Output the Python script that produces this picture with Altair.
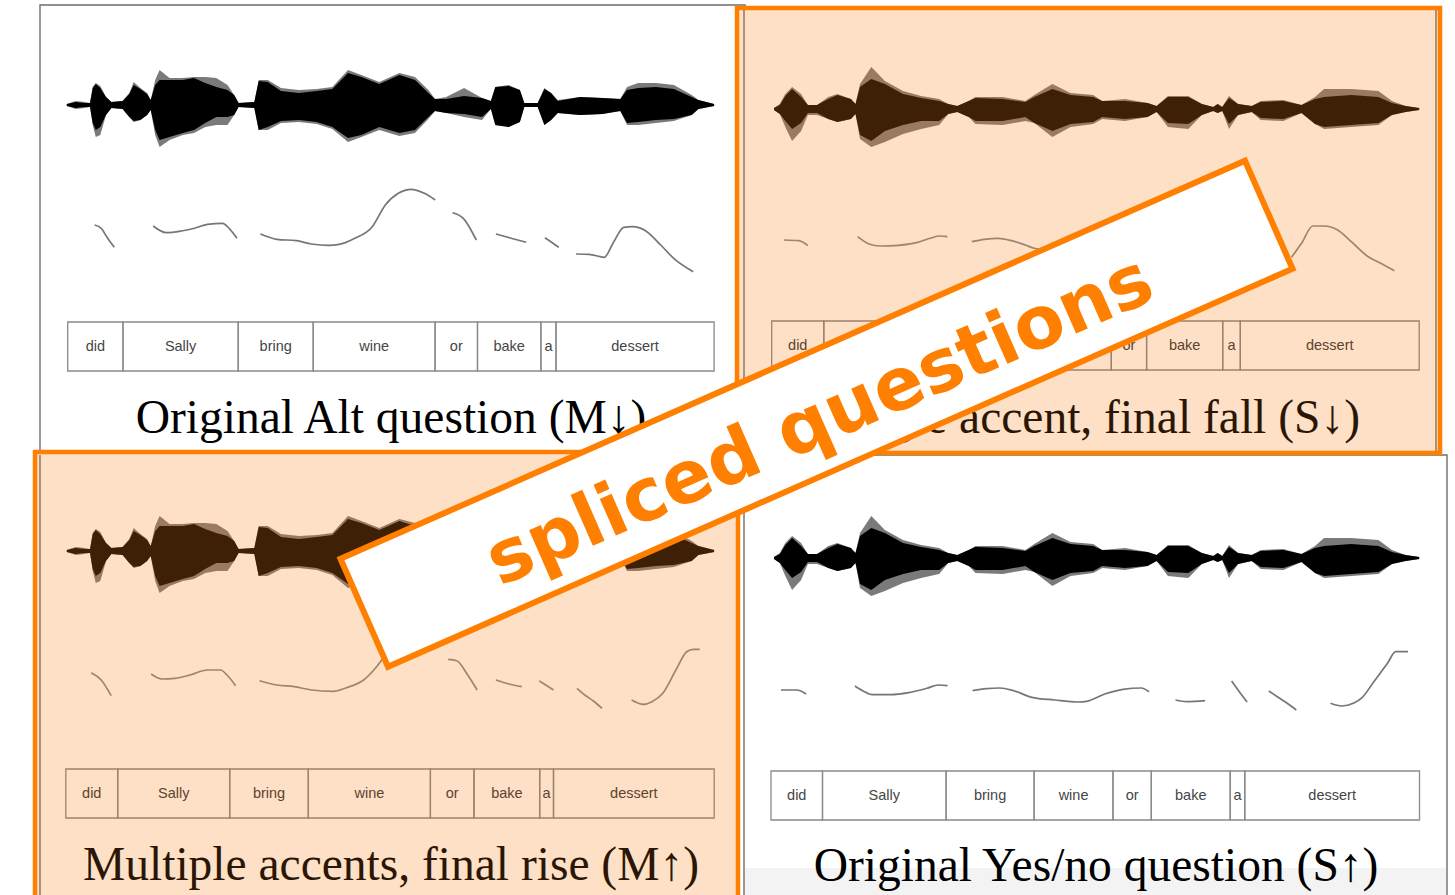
import altair as alt
import pandas as pd

W, H = 1455, 895
ORANGE = "#ff7f00"
PEACH = "#fde0c5"

# colours for the plain (white) panels and the tinted (peach) panels
INK = {"plain": "#000000", "tint": "#3d2006"}
INK_LIGHT = {"plain": "#7a7a7a", "tint": "#9a7a60"}
PITCH_COL = {"plain": "#767676", "tint": "#a0846c"}
TIER_COL = {"plain": "#8a8a8a", "tint": "#9c826c"}
WORD_COL = {"plain": "#454545", "tint": "#5c4330"}
TITLE_COL = {"plain": "#000000", "tint": "#2b1605"}

# ---- panels ----------------------------------------------------------------
panel_ids = ["tl", "tr", "bl", "br"]
panel_kind = {"tl": "plain", "tr": "tint", "bl": "tint", "br": "plain"}
wave_centre = {"tl": 105, "tr": 109, "bl": 551, "br": 558}

# ---- word tiers (cell boundaries, px) ---------------------------------------
words = ["did", "Sally", "bring", "wine", "or", "bake", "a", "dessert"]
tier_bounds = {
    "tl": [67.7, 123.0, 238.2, 313.2, 435.1, 477.5, 540.9, 556.0, 714.1],
    "tr": [771.7, 823.8, 946.0, 1034.0, 1111.3, 1146.6, 1222.7, 1240.3, 1419.2],
    "bl": [65.8, 117.7, 229.7, 308.3, 430.4, 474.0, 539.7, 553.5, 714.2],
    "br": [771.0, 822.5, 946.1, 1034.1, 1113.0, 1151.3, 1230.2, 1244.8, 1419.5],
}
tier_rows = {"tl": (322, 371), "tr": (321, 370), "bl": (769, 818), "br": (771, 820)}

# ---- titles ----------------------------------------------------------------
titles = {
    "tl": "Original Alt question (M\u2193)",
    "tr": "Single accent, final fall (S\u2193)",
    "bl": "Multiple accents, final rise (M\u2191)",
    "br": "Original Yes/no question (S\u2191)",
}
title_x = {"tl": 391, "tr": 1360, "bl": 391, "br": 1096}
title_y = {"tl": 433, "tr": 433, "bl": 880, "br": 881}

# ---- waveform envelopes: x, outer-top, inner-top, inner-bottom, outer-bottom --
wave_m_x = [66.8, 75.7, 84.6, 90.0, 92.7, 95.8, 100.3, 106.0, 111.4, 122.6, 129.3, 133.7,
            140.4, 147.1, 150.7, 155.2, 159.6, 169.5, 182.8, 194.0, 205.2, 216.3, 227.5,
            234.2, 238.6, 254.3, 258.7, 267.7, 281.0, 298.9, 316.8, 332.4, 348.0, 361.4,
            379.3, 399.4, 415.0, 428.4, 435.0, 446.2, 464.1, 482.0, 490.9, 495.3, 508.7,
            519.9, 524.3, 537.7, 544.4, 551.1, 557.8, 580.1, 602.4, 620.3, 627.0, 638.2,
            656.0, 673.9, 691.7, 698.4, 714.1]
wave_m_ot = [1, 4, 3, 2, 18, 22, 19, 8, 3, 4, 12, 23, 17, 12, 5, 25, 35, 27, 27, 28, 28, 27,
             20, 10, 2, 3, 25, 25, 17, 15, 16, 18, 35, 30, 23, 32, 28, 15, 6, 8, 17, 7, 4, 18,
             20, 15, 2, 2, 17, 12, 5, 8, 7, 6, 18, 22, 22, 20, 10, 5, 1]
wave_m_it = [1, 3, 2, 2, 17, 21, 17, 8, 3, 4, 11, 20, 16, 11, 5, 20, 25, 25, 25, 27, 22, 18,
             15, 10, 2, 3, 24, 23, 14, 12, 14, 16, 32, 28, 21, 30, 25, 12, 6, 6, 9, 7, 4, 18,
             19, 15, 2, 2, 16, 12, 4, 8, 7, 6, 15, 17, 18, 16, 8, 5, 1]
wave_m_ib = [1, 3, 2, 2, 18, 25, 22, 10, 3, 4, 12, 16, 15, 10, 5, 25, 35, 32, 28, 25, 18, 12,
             12, 10, 2, 3, 25, 22, 16, 15, 17, 22, 33, 30, 22, 28, 25, 12, 6, 8, 9, 12, 4, 20,
             22, 17, 2, 2, 20, 15, 8, 10, 9, 6, 18, 17, 15, 14, 10, 4, 1]
wave_m_ob = [1, 4, 3, 2, 20, 32, 30, 10, 3, 4, 12, 17, 15, 10, 5, 30, 42, 35, 30, 28, 22, 20,
             20, 10, 2, 3, 25, 25, 18, 17, 19, 24, 37, 32, 25, 31, 28, 14, 6, 8, 12, 15, 4, 20,
             22, 17, 2, 2, 20, 15, 8, 10, 9, 6, 20, 20, 18, 16, 10, 4, 1]

wave_s_x = [774.0, 779.8, 785.3, 792.1, 801.1, 807.9, 817.0, 828.3, 837.4, 850.9, 855.5,
            860.0, 871.3, 884.9, 903.0, 921.1, 939.2, 948.3, 957.3, 968.7, 975.5, 1002.6,
            1025.3, 1034.3, 1052.4, 1070.5, 1093.2, 1102.2, 1124.9, 1147.5, 1156.6, 1167.9,
            1188.3, 1201.9, 1213.2, 1217.7, 1222.2, 1229.0, 1238.1, 1251.7, 1260.7, 1283.4,
            1301.5, 1315.0, 1324.1, 1351.3, 1378.4, 1392.0, 1405.6, 1419.2]
wave_s_ot = [1, 5, 15, 22, 15, 4, 4, 12, 15, 10, 5, 25, 42, 28, 18, 13, 10, 5, 3, 8, 12, 12,
             8, 14, 25, 16, 14, 8, 10, 6, 3, 13, 13, 5, 2, 5, 2, 13, 5, 3, 8, 9, 4, 12, 20, 20,
             18, 8, 3, 1]
wave_s_it = [1, 4, 13, 20, 12, 4, 4, 10, 14, 10, 5, 22, 30, 25, 15, 11, 8, 5, 3, 8, 11, 10,
             7, 12, 20, 14, 12, 8, 8, 6, 3, 12, 12, 5, 2, 5, 2, 11, 5, 3, 7, 8, 4, 10, 12, 14,
             12, 6, 3, 1]
wave_s_ib = [1, 5, 12, 20, 14, 4, 4, 10, 13, 10, 5, 26, 32, 22, 16, 12, 12, 5, 3, 8, 12, 12,
             8, 14, 22, 15, 13, 8, 10, 8, 3, 14, 15, 6, 2, 4, 2, 15, 6, 3, 9, 10, 4, 15, 18, 16,
             14, 6, 3, 1]
wave_s_ob = [1, 5, 18, 32, 22, 6, 6, 10, 13, 10, 5, 30, 38, 33, 25, 20, 16, 5, 3, 8, 15, 16,
             12, 14, 28, 18, 15, 10, 12, 8, 3, 18, 20, 6, 2, 4, 2, 20, 6, 3, 11, 12, 4, 15, 20,
             18, 16, 6, 3, 1]

wave_source = {"tl": "m", "bl": "m", "tr": "s", "br": "s"}

# ---- pitch tracks: list of (x values, y values) per voiced stretch ----------
pitch = {
    "tl": [
        ([94.7, 101.2, 107.7, 114.2], [225, 228.3, 238.3, 247.3]),
        ([153.2, 166.3, 181.4, 194.4, 207.5, 222.6, 229.1, 237.0],
         [226, 232.7, 231, 228.3, 224.3, 223.3, 228.3, 238.3]),
        ([260.4, 276.9, 296.4, 311.5, 328.9, 337.6, 354.9, 372.3, 385.3, 398.3, 411.3, 424.3, 435.2],
         [234, 239.3, 240.7, 244, 245.3, 244.7, 238.3, 226.7, 205, 193.3, 189.3, 193.3, 200]),
        ([452.5, 463.3, 476.3], [212.7, 218.3, 240]),
        ([495.9, 511.1, 526.2], [234, 238.3, 242.3]),
        ([544.9, 552.3, 558.8], [237.7, 242.7, 247.3]),
        ([576.1, 589.1, 604.3, 613.0, 623.8, 632.5, 645.5, 660.7, 673.7, 693.2],
         [254, 254.3, 257.3, 243.3, 227.3, 226.7, 230.7, 245, 258.3, 271.7]),
    ],
    "bl": [
        ([91.2, 101.2, 111.2], [672.7, 680, 695.7]),
        ([151.1, 161.9, 174.9, 190.1, 207.5, 220.5, 227.0, 235.6],
         [674, 679, 678.3, 675, 670, 670, 675, 685.7]),
        ([259.5, 276.9, 294.2, 311.5, 333.2, 346.3, 363.6, 376.6, 383.1, 398.0, 411.0, 424.0],
         [680.7, 685, 686.7, 690, 691.3, 687.7, 680, 666.7, 658.3, 645, 641, 645]),
        ([448.2, 456.8, 467.7, 477.2], [659.3, 660.7, 675, 690]),
        ([495.9, 508.9, 521.9], [680, 684, 686.7]),
        ([539.2, 545.7, 553.5], [681, 685, 690]),
        ([577.0, 584.8, 593.4, 602.1], [688.3, 695, 701, 708.3]),
        ([631.6, 643.3, 652.0, 662.8, 675.9, 686.7, 693.2, 699.7],
         [700, 704.3, 701.7, 693.3, 670, 651.7, 649.3, 649.3]),
    ],
    "tr": [
        ([783.9, 798.9, 807.9], [240, 240.7, 245.7]),
        ([857.7, 869.0, 880.4, 898.5, 916.6, 930.2, 939.2, 947.4],
         [236.7, 244, 246, 245.3, 242.7, 238.3, 236, 236.7]),
        ([971.8, 984.5, 998.1, 1011.7, 1025.3, 1034.3, 1054.6, 1077.4, 1086.6, 1104.8, 1123.0, 1141.3, 1149.0],
         [241.7, 239.3, 238.3, 240.7, 245, 248.3, 251, 253, 252.3, 245, 240.3, 239, 242.7]),
        ([1175.5, 1186.9, 1205.1], [251, 252.7, 251.7]),
        ([1231.6, 1239.3, 1247.1], [232, 242.7, 253]),
        ([1291.5, 1301.5, 1312.8, 1324.1, 1337.7, 1351.3, 1367.1, 1380.7, 1394.3],
         [257.3, 243.3, 226, 226, 230, 241.7, 256, 263.3, 270.7]),
    ],
    "br": [
        ([781.0, 797.0, 806.1], [690, 690, 694]),
        ([854.9, 863.1, 872.2, 890.5, 908.7, 927.0, 938.4, 947.5],
         [686, 691, 694.7, 694.7, 692.7, 688.3, 685, 685.7]),
        ([972.6, 986.2, 999.9, 1013.6, 1031.8, 1054.6, 1077.4, 1086.6, 1104.8, 1123.0, 1141.3, 1149.0],
         [690.7, 688.7, 688, 690.7, 697.3, 700, 702, 701.3, 694, 689.3, 688, 691.7]),
        ([1175.5, 1186.9, 1205.1], [700, 701.7, 700.7]),
        ([1231.6, 1239.3, 1247.1], [681, 691.7, 702]),
        ([1268.9, 1278.1, 1287.2, 1296.3], [691, 697.3, 703.3, 710]),
        ([1330.5, 1341.9, 1353.3, 1362.4, 1373.8, 1387.5, 1395.7, 1408.0],
         [703.3, 706, 703.3, 697.3, 681.7, 663.3, 651.7, 651.7]),
    ],
}

# ---- banner across the middle ---------------------------------------------
banner_text = "spliced questions"
banner_start = (361.5, 614.0)
banner_end = (1271.5, 213.5)
banner_width = 124
banner_border = 6
banner_angle = 336.3
banner_text_pos = (820, 422)

# ---------------------------------------------------------------------------
XS = alt.Scale(domain=[0, W], range=[0, W])
YS = alt.Scale(domain=[0, H], range=[0, H])


def ex(f="x"):
    return alt.X(f"{f}:Q", scale=XS, axis=None)


def ey(f="y"):
    return alt.Y(f"{f}:Q", scale=YS, axis=None)


# panel frames (drawn in order: bottom-right, top-left, top-right, bottom-left)
frames = pd.DataFrame({
    "x": [744, 40, 737, 35],
    "x2": [1447, 745, 1440, 738],
    "y": [455, 5, 8, 452],
    "y2": [899, 455, 453, 899],
    "fill": ["#ffffff", "#ffffff", PEACH, PEACH],
    "stroke": ["#6e6e6e", "#6e6e6e", ORANGE, ORANGE],
    "sw": [1.4, 1.4, 4.5, 4.5],
})
frame_layer = alt.Chart(frames).mark_rect().encode(
    x=ex(), x2="x2:Q", y=ey(), y2="y2:Q",
    fill=alt.Fill("fill:N", scale=None),
    stroke=alt.Stroke("stroke:N", scale=None),
    strokeWidth=alt.StrokeWidth("sw:Q", scale=None),
)

band = pd.DataFrame({"x": [745], "x2": [1446], "y": [868], "y2": [896]})
band_layer = alt.Chart(band).mark_rect(color="#f3f3f3").encode(
    x=ex(), x2="x2:Q", y=ey(), y2="y2:Q")

# thin edges of the original figures showing through the tinted panels
edges = pd.DataFrame({
    "x": [744, 1436, 40], "x2": [744, 1436, 40],
    "y": [10, 10, 455], "y2": [451, 451, 895],
})
edge_layer = alt.Chart(edges).mark_rule(color="#7a5c44", strokeWidth=1.2).encode(
    x=ex(), x2="x2:Q", y=ey(), y2="y2:Q")

# waveforms
wave_sets = {
    "m": (wave_m_x, wave_m_ot, wave_m_it, wave_m_ib, wave_m_ob),
    "s": (wave_s_x, wave_s_ot, wave_s_it, wave_s_ib, wave_s_ob),
}
wrows = []
for p in panel_ids:
    xs, ot, it, ib, ob = wave_sets[wave_source[p]]
    c = wave_centre[p]
    k = panel_kind[p]
    for i in range(len(xs)):
        wrows.append({
            "panel": p, "x": xs[i],
            "ot": c - ot[i], "it": c - it[i], "ib": c + ib[i], "ob": c + ob[i],
            "outer": INK_LIGHT[k], "inner": INK[k],
        })
wdf = pd.DataFrame(wrows)
wave_outer = alt.Chart(wdf).mark_area(interpolate="linear").encode(
    x=ex(), y=ey("ot"), y2="ob:Q", detail="panel:N",
    fill=alt.Fill("outer:N", scale=None))
wave_inner = alt.Chart(wdf).mark_area(interpolate="linear").encode(
    x=ex(), y=ey("it"), y2="ib:Q", detail="panel:N",
    fill=alt.Fill("inner:N", scale=None))

# pitch tracks
prows = []
for p in panel_ids:
    for si, (xs, ys) in enumerate(pitch[p]):
        for i, (xv, yv) in enumerate(zip(xs, ys)):
            prows.append({"seg": f"{p}{si}", "i": i, "x": xv, "y": yv,
                          "col": PITCH_COL[panel_kind[p]]})
pitch_layer = alt.Chart(pd.DataFrame(prows)).mark_line(
    strokeWidth=1.7, interpolate="monotone").encode(
    x=ex(), y=ey(), detail="seg:N", order="i:Q",
    stroke=alt.Stroke("col:N", scale=None))

# word tiers
trows = []
for p in panel_ids:
    b = tier_bounds[p]
    y0, y1 = tier_rows[p]
    k = panel_kind[p]
    for i, w in enumerate(words):
        trows.append({"x": b[i], "x2": b[i + 1], "y": y0, "y2": y1,
                      "xm": (b[i] + b[i + 1]) / 2, "ym": (y0 + y1) / 2,
                      "word": w, "line": TIER_COL[k], "ink": WORD_COL[k]})
tdf = pd.DataFrame(trows)
tier_boxes = alt.Chart(tdf).mark_rect(fillOpacity=0, strokeWidth=1.3).encode(
    x=ex(), x2="x2:Q", y=ey(), y2="y2:Q",
    stroke=alt.Stroke("line:N", scale=None))
tier_words = alt.Chart(tdf).mark_text(
    font="Liberation Sans", fontSize=14.5, align="center", baseline="middle").encode(
    x=ex("xm"), y=ey("ym"), text="word:N", color=alt.Color("ink:N", scale=None))

# titles
ttl = pd.DataFrame([{"x": title_x[p], "y": title_y[p], "t": titles[p],
                     "ink": TITLE_COL[panel_kind[p]]} for p in ["tl", "bl", "br"]])
title_layer = alt.Chart(ttl).mark_text(
    font="Liberation Serif", fontSize=47.5, align="center", baseline="alphabetic").encode(
    x=ex(), y=ey(), text="t:N", color=alt.Color("ink:N", scale=None))
ttl_r = pd.DataFrame([{"x": title_x["tr"], "y": title_y["tr"], "t": titles["tr"]}])
title_r_layer = alt.Chart(ttl_r).mark_text(
    font="Liberation Serif", fontSize=47.5, align="right", baseline="alphabetic",
    color=TITLE_COL["tint"]).encode(x=ex(), y=ey(), text="t:N")

# banner: an orange strip with a white inlay, then the text
dx = banner_end[0] - banner_start[0]
dy = banner_end[1] - banner_start[1]
ln = (dx ** 2 + dy ** 2) ** 0.5
ux, uy = dx / ln, dy / ln
ban_outer = pd.DataFrame([{"x": banner_start[0], "y": banner_start[1],
                           "x2": banner_end[0], "y2": banner_end[1]}])
ban_inner = pd.DataFrame([{"x": banner_start[0] + banner_border * ux,
                           "y": banner_start[1] + banner_border * uy,
                           "x2": banner_end[0] - banner_border * ux,
                           "y2": banner_end[1] - banner_border * uy}])
banner_o = alt.Chart(ban_outer).mark_rule(
    color=ORANGE, strokeWidth=banner_width, strokeCap="butt").encode(
    x=ex(), y=ey(), x2="x2:Q", y2="y2:Q")
banner_i = alt.Chart(ban_inner).mark_rule(
    color="#ffffff", strokeWidth=banner_width - 2 * banner_border, strokeCap="butt").encode(
    x=ex(), y=ey(), x2="x2:Q", y2="y2:Q")
ban_txt = pd.DataFrame([{"x": banner_text_pos[0], "y": banner_text_pos[1], "t": banner_text}])
banner_t = alt.Chart(ban_txt).mark_text(
    font="DejaVu Sans", fontWeight="bold", fontSize=73, angle=banner_angle,
    align="center", baseline="middle", color=ORANGE).encode(x=ex(), y=ey(), text="t:N")

chart = alt.layer(
    frame_layer, band_layer, edge_layer,
    wave_outer, wave_inner, pitch_layer,
    tier_boxes, tier_words, title_layer, title_r_layer,
    banner_o, banner_i, banner_t,
).properties(
    width=W, height=H, padding=0, autosize="none", background="#ffffff"
).configure_view(stroke=None)

chart.save("out.html", embed_options={"renderer": "svg", "actions": False})
